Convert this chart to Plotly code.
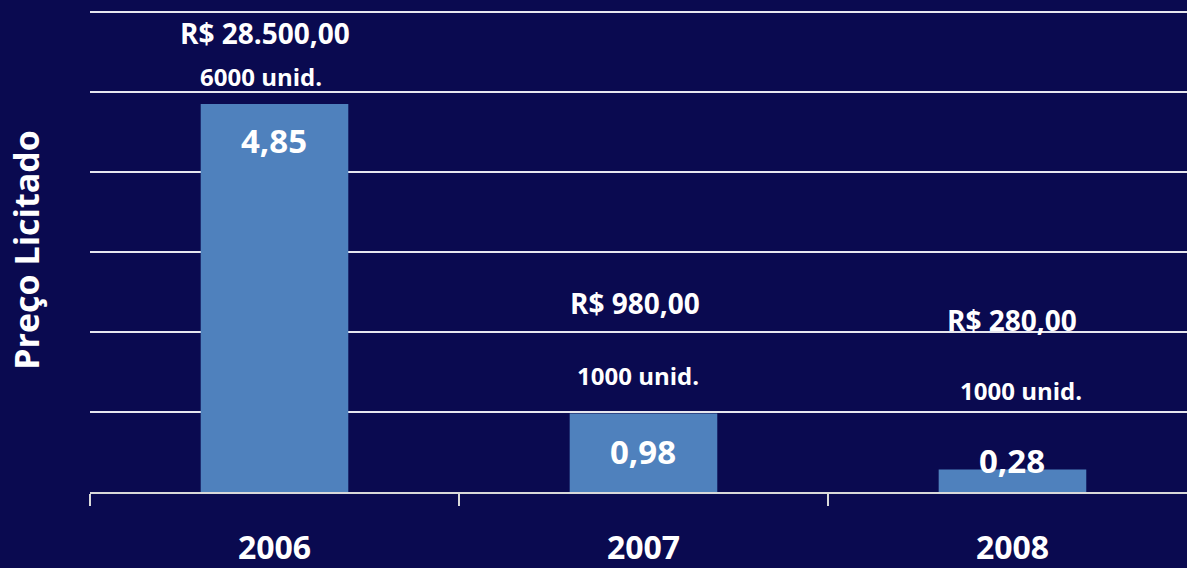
import plotly.graph_objects as go

anos = ["2006", "2007", "2008"]
preco = [4.85, 0.98, 0.28]
valor_total = ["R$ 28.500,00", "R$ 980,00", "R$ 280,00"]
quantidade = ["6000 unid.", "1000 unid.", "1000 unid."]
preco_txt = ["4,85", "0,98", "0,28"]

# where the text boxes sit (y in axis units, x shift in px)
y_total = [5.74, 2.36, 2.15]
y_qtd = [5.2, 1.46, 1.275]
y_preco = [4.39, 0.51, 0.39]
dx_total = [-9, -8, 0]
dx_qtd = [-13, -5, 9]

fundo = "#0A0A50"
fonte = "Open Sans"

fig = go.Figure()
fig.add_trace(go.Bar(x=anos, y=preco, marker_color="#4F81BD", marker_line_width=0, width=0.4))

for i in range(len(anos)):
    # category index, a "2006" string would be read as position 2006
    fig.add_annotation(x=i, y=y_total[i], text="<b>" + valor_total[i] + "</b>", showarrow=False,
                       xshift=dx_total[i], font=dict(family=fonte, size=28, color="white"))
    fig.add_annotation(x=i, y=y_qtd[i], text="<b>" + quantidade[i] + "</b>", showarrow=False,
                       xshift=dx_qtd[i], font=dict(family=fonte, size=24, color="white"))
    fig.add_annotation(x=i, y=y_preco[i], text="<b>" + preco_txt[i] + "</b>", showarrow=False,
                       font=dict(family=fonte, size=33, color="white"))

fig.update_layout(
    width=1187, height=568,
    paper_bgcolor=fundo, plot_bgcolor=fundo,
    margin=dict(l=90, r=0, t=8, b=76),
    showlegend=False,
)
fig.update_xaxes(
    type="category", range=[-0.5, 2.473], automargin=False,
    showline=True, linecolor="#D9D9D9", linewidth=2,
    ticks="outside", tickson="boundaries", ticklen=12, tickcolor="#D9D9D9", tickwidth=2,
    showgrid=False,
    tickfont=dict(family=fonte, size=32, color="white", weight="bold"),
    ticklabelstandoff=27,
)
fig.update_yaxes(
    range=[0, 6.05], dtick=1, automargin=False,
    showgrid=True, gridcolor="#E6E6EE", gridwidth=2,
    showticklabels=False, zeroline=False, showline=False,
    title=dict(text="<b>Preço Licitado</b>", standoff=39,
               font=dict(family=fonte, size=34, color="white")),
)

fig.write_html("out.html", config={"displayModeBar": False},
               post_script="document.body.style.margin='0';")
